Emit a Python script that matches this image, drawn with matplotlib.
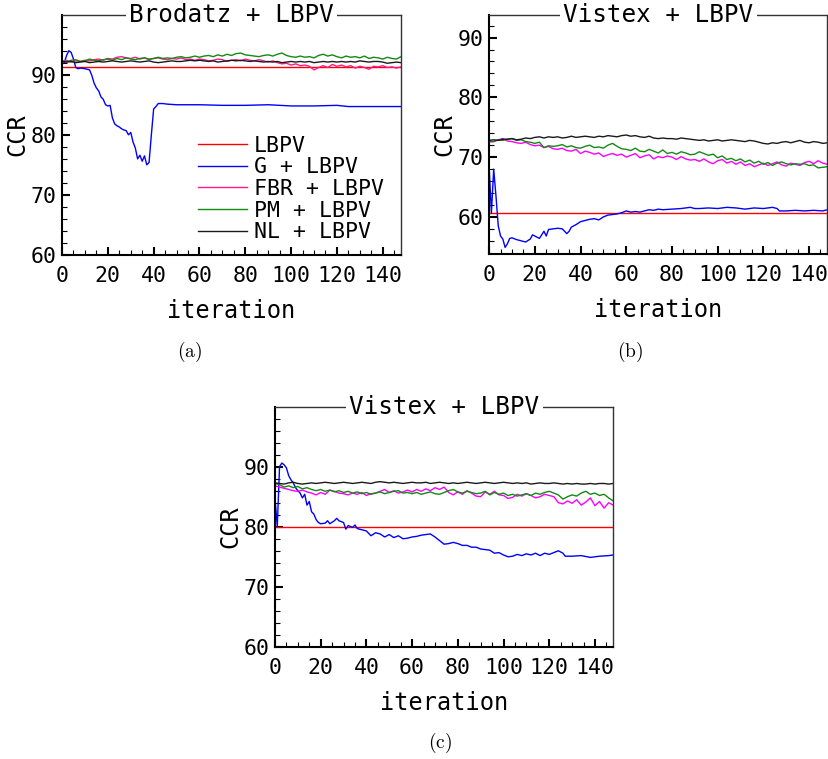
import numpy as np
import matplotlib
matplotlib.use("Agg")
import matplotlib.pyplot as plt
from matplotlib.ticker import MultipleLocator

plt.rcParams["font.family"] = ["DejaVu Sans Mono"]
plt.rcParams["mathtext.fontset"] = "cm"

# iteration index shared by the noisy curves (every 2nd iteration)
iters = np.arange(0, 149, 2)

# ---------------------------
# (a) Brodatz + LBPV
# ---------------------------
lbpv_a = 91.3
g_a = [(0, 91.8), (1, 92.0), (2, 93.2), (3, 94.0), (4, 93.7), (5, 92.6), (6, 91.2), (7, 91.0),
       (8, 91.1), (10, 91.0), (12, 90.8), (13, 89.9), (14, 88.6), (15, 87.8), (16, 87.3),
       (17, 86.3), (18, 85.9), (19, 85.0), (20, 84.8), (21, 84.9), (22, 82.8), (23, 81.8),
       (24, 81.5), (25, 81.3), (26, 81.0), (27, 80.8), (28, 80.7), (29, 80.0), (30, 80.4),
       (31, 78.8), (32, 77.8), (33, 76.0), (34, 76.6), (35, 75.6), (36, 76.5), (37, 75.0),
       (38, 75.4), (39, 80.0), (40, 84.3), (41, 84.7), (42, 85.2), (44, 85.2), (46, 85.1),
       (50, 85.0), (60, 85.0), (70, 84.9), (80, 84.9), (90, 85.0), (100, 84.8), (110, 84.8),
       (120, 84.9), (125, 84.7), (130, 84.7), (148, 84.7)]
fbr_a = [92.2, 92.4, 92.1, 92.3, 92.2, 92.4, 92.3, 92.5, 92.6, 92.4, 92.7, 92.6, 92.9, 93.0, 92.8,
         92.7, 92.9, 92.6, 92.8, 92.5, 92.7, 92.8, 92.6, 92.5, 92.7, 92.6, 92.8, 92.5, 92.6, 92.4,
         92.6, 92.5, 92.3, 92.4, 92.6, 92.5, 92.2, 92.4, 92.5, 92.3, 92.6, 92.4, 92.3, 92.5, 92.3,
         92.1, 92.3, 92.0, 91.8, 91.9, 91.6, 91.8, 91.5, 91.6, 91.4, 90.8, 91.2, 91.5, 91.2, 91.7,
         91.4, 91.6, 91.3, 91.5, 91.1, 91.4, 91.2, 90.9, 91.4, 91.3, 91.5, 91.2, 91.3, 91.1, 91.3]
pm_a = [92.3, 92.1, 92.4, 92.5, 92.2, 92.3, 92.6, 92.4, 92.3, 92.5, 92.6, 92.4, 92.7, 92.5, 92.8,
        92.6, 92.5, 92.7, 92.8, 92.6, 92.7, 92.9, 92.7, 92.8, 92.7, 92.9, 93.0, 92.8, 92.9, 93.1,
        92.9, 93.1, 93.2, 93.0, 93.3, 93.1, 93.4, 93.2, 93.5, 93.6, 93.3, 93.2, 93.1, 93.0, 93.2,
        93.3, 93.1, 93.4, 93.6, 93.2, 93.0, 92.9, 93.1, 92.9, 93.0, 92.8, 93.2, 93.4, 93.1, 93.3,
        93.0, 92.8, 93.1, 92.9, 93.0, 92.8, 93.1, 92.7, 92.9, 92.8, 92.6, 92.9, 92.7, 92.6, 93.0]
nl_a = [92.2, 92.1, 92.2, 92.0, 92.1, 92.2, 92.0, 92.1, 92.2, 92.1, 92.2, 92.3, 92.2, 92.1, 92.2,
        92.3, 92.2, 92.1, 92.2, 92.3, 92.1, 92.0, 92.1, 92.2, 92.3, 92.2, 92.2, 92.3, 92.4, 92.3,
        92.4, 92.3, 92.2, 92.3, 92.1, 92.2, 92.3, 92.4, 92.3, 92.4, 92.3, 92.2, 92.3, 92.2, 92.1,
        92.2, 92.1, 92.2, 92.0, 92.1, 92.2, 92.1, 92.2, 92.1, 92.2, 92.0, 92.1, 92.2, 92.1, 92.2,
        92.1, 92.2, 92.1, 92.2, 92.1, 92.3, 92.2, 92.1, 92.2, 92.2, 92.1, 91.9, 92.0, 92.1, 92.0]

# ---------------------------
# (b) Vistex + LBPV
# ---------------------------
lbpv_b = 60.6
g_b = [(0, 68.5), (1, 60.6), (2, 68.0), (3, 63.5), (4, 58.5), (5, 56.8), (6, 56.3), (7, 54.9),
       (8, 55.5), (9, 56.4), (10, 56.5), (12, 56.2), (14, 56.0), (16, 55.8), (18, 56.3),
       (19, 57.0), (20, 56.8), (22, 56.4), (24, 57.6), (25, 56.8), (26, 57.9), (28, 58.0),
       (30, 58.1), (32, 58.0), (34, 57.2), (35, 57.6), (36, 58.3), (38, 58.7), (40, 59.2),
       (42, 59.4), (44, 59.6), (46, 59.7), (48, 59.5), (50, 60.0), (52, 60.3), (54, 60.4),
       (56, 60.5), (58, 60.7), (60, 61.0), (62, 60.8), (64, 60.9), (66, 60.8), (68, 61.0),
       (70, 61.2), (72, 61.1), (74, 61.3), (76, 61.2), (80, 61.3), (84, 61.4), (88, 61.6),
       (90, 61.4), (92, 61.4), (96, 61.5), (100, 61.4), (104, 61.6), (108, 61.5), (112, 61.3),
       (116, 61.5), (120, 61.4), (124, 61.6), (126, 61.4), (127, 61.0), (130, 61.0),
       (134, 61.1), (138, 61.0), (142, 61.1), (146, 61.0), (148, 61.2)]
fbr_b = [72.5, 72.6, 72.9, 73.1, 72.7, 72.6, 72.4, 72.3, 72.5, 72.1, 71.9, 72.0, 71.6, 71.8, 71.4,
         71.3, 71.5, 71.1, 71.0, 71.3, 70.6, 71.0, 70.8, 70.5, 70.7, 70.1, 70.4, 70.6, 70.3, 70.5,
         70.0, 70.3, 70.6, 69.9, 70.2, 70.4, 69.7, 70.1, 69.9, 70.2, 70.0, 69.6, 70.1, 69.7, 69.5,
         69.6, 69.3, 69.7, 69.2, 68.9, 69.4, 69.6, 69.0, 69.3, 68.8, 69.2, 68.6, 68.9, 68.4, 68.7,
         69.0, 68.6, 68.9, 69.2, 68.7, 68.5, 69.0, 68.8, 68.6, 69.1, 69.3, 68.9, 69.4, 69.0, 68.8]
pm_b = [72.7, 72.6, 72.9, 72.8, 73.0, 73.1, 72.8, 72.9, 72.6, 72.5, 72.3, 72.5, 71.6, 71.9, 71.8,
        71.9, 72.1, 71.7, 71.9, 71.6, 71.5, 71.8, 72.0, 71.6, 71.7, 71.5, 72.0, 72.3, 71.8, 71.4,
        71.3, 71.1, 71.5, 71.0, 70.9, 71.3, 71.0, 70.7, 71.2, 70.6, 70.8, 70.5, 70.9, 70.7, 70.4,
        70.5, 70.9, 70.6, 70.3, 70.5, 69.9, 70.2, 69.6, 69.8, 69.4, 69.7, 69.2, 69.5, 69.0, 69.3,
        68.8, 69.1, 68.6, 69.0, 69.2, 68.9, 68.7, 68.9, 68.8, 68.9, 68.6, 68.7, 68.2, 68.3, 68.4]
nl_b = [72.8, 72.9, 72.8, 73.0, 73.0, 73.1, 72.9, 73.0, 73.2, 73.1, 73.3, 73.4, 73.2, 73.4, 73.3,
        73.4, 73.2, 73.3, 73.5, 73.3, 73.4, 73.5, 73.4, 73.3, 73.5, 73.4, 73.6, 73.5, 73.4, 73.6,
        73.7, 73.5, 73.6, 73.4, 73.3, 73.5, 73.2, 73.1, 73.2, 73.1, 73.1, 73.0, 73.2, 73.1, 73.0,
        72.9, 72.8, 72.9, 72.7, 72.8, 72.9, 72.7, 72.8, 72.9, 72.8, 72.7, 72.6, 72.8, 72.7, 72.5,
        72.3, 72.2, 72.4, 72.3, 72.5, 72.6, 72.4, 72.6, 72.8, 72.5, 72.4, 72.6, 72.5, 72.3, 72.4]

# ---------------------------
# (c) Vistex + LBPV
# ---------------------------
lbpv_c = 80.0
g_c = [(0, 84.8), (1, 80.0), (2, 90.0), (3, 90.6), (4, 90.3), (5, 89.8), (6, 88.5), (7, 87.8),
       (8, 87.3), (9, 86.5), (10, 86.0), (11, 85.6), (12, 84.8), (13, 85.4), (14, 83.6),
       (15, 84.2), (16, 82.5), (17, 82.1), (18, 81.2), (19, 80.7), (20, 80.5), (22, 80.6),
       (23, 81.0), (24, 80.5), (26, 81.0), (27, 81.4), (28, 81.0), (30, 80.7), (31, 79.6),
       (32, 80.2), (34, 79.9), (35, 80.3), (36, 79.7), (38, 79.5), (40, 79.3), (42, 78.5),
       (44, 79.0), (46, 78.8), (48, 78.3), (50, 78.7), (52, 78.2), (54, 78.5), (56, 78.0),
       (58, 78.1), (60, 78.3), (62, 78.4), (64, 78.6), (66, 78.7), (68, 78.8), (70, 78.3),
       (72, 77.7), (74, 77.1), (76, 77.2), (78, 77.4), (80, 77.2), (82, 76.9), (84, 76.9),
       (86, 76.6), (88, 76.6), (90, 76.3), (92, 76.2), (94, 76.1), (96, 75.6), (98, 75.7),
       (100, 75.3), (102, 75.0), (104, 75.1), (106, 75.4), (108, 75.2), (110, 75.5),
       (112, 75.3), (114, 75.6), (116, 75.2), (118, 75.6), (120, 75.4), (122, 75.7),
       (124, 76.0), (126, 75.6), (127, 75.1), (130, 75.1), (134, 75.2), (138, 74.9),
       (142, 75.1), (146, 75.2), (148, 75.3)]
fbr_c = [86.8, 86.6, 86.4, 86.2, 86.0, 85.9, 86.1, 85.8, 85.6, 85.3, 85.7, 85.4, 86.1, 85.9, 85.6,
         85.5, 85.3, 85.6, 85.4, 85.7, 85.2, 85.5, 85.6, 85.9, 86.2, 85.7, 86.0, 85.6, 85.8, 86.1,
         85.8, 86.2, 85.9, 86.3, 86.0, 86.5, 86.2, 86.6, 85.7, 85.3, 85.8, 85.4, 86.0, 85.6, 85.1,
         85.0, 85.8, 85.4, 85.9, 85.3, 85.2, 84.7, 84.9, 85.4, 85.1, 85.5, 85.2, 84.8, 85.0, 85.4,
         85.2, 85.0, 84.0, 83.8, 84.3, 83.9, 84.5, 83.6, 84.1, 84.8, 83.5, 84.2, 83.1, 84.0, 83.6]
pm_c = [87.2, 87.0, 86.6, 86.8, 86.5, 86.7, 86.3, 86.5, 86.2, 86.0, 86.2, 85.9, 86.1, 85.8, 86.0,
        85.7, 85.9, 85.6, 85.8, 85.5, 85.7, 85.4, 85.6, 85.8, 85.5, 85.7, 85.9, 86.0, 85.6, 85.7,
        85.5, 85.7, 85.4, 85.6, 85.8, 85.5, 85.4, 85.7, 86.0, 86.2, 85.8, 85.6, 85.9, 85.7, 85.5,
        85.6, 85.9, 85.3, 85.7, 85.4, 85.6, 85.2, 85.4, 85.1, 85.3, 85.5, 85.2, 85.6, 85.4, 85.7,
        85.9, 85.6, 85.3, 84.6, 85.0, 85.3, 85.1, 85.6, 85.9, 85.4, 85.6, 85.2, 85.4, 84.8, 84.3]
nl_c = [87.3, 87.2, 87.1, 87.3, 87.4, 87.2, 87.1, 87.2, 87.3, 87.2, 87.3, 87.4, 87.3, 87.2, 87.3,
        87.4, 87.3, 87.2, 87.3, 87.4, 87.3, 87.2, 87.4, 87.5, 87.4, 87.3, 87.4, 87.3, 87.2, 87.3,
        87.4, 87.3, 87.3, 87.4, 87.2, 87.3, 87.4, 87.3, 87.2, 87.3, 87.2, 87.3, 87.4, 87.3, 87.2,
        87.3, 87.4, 87.3, 87.2, 87.3, 87.4, 87.3, 87.2, 87.3, 87.2, 87.3, 87.1, 87.2, 87.3, 87.2,
        87.2, 87.3, 87.2, 87.1, 87.2, 87.1, 87.2, 87.1, 87.1, 87.2, 87.1, 87.2, 87.2, 87.1, 87.2]

labels = ["LBPV", "G + LBPV", "FBR + LBPV", "PM + LBPV", "NL + LBPV"]

LW = 1.0
RED, BLUE, GREEN, BLACK = "#ff0000", "#0000ff", "#138a13", "#1a1a1a"


def style_axes(ax, title, ylim):
    ax.set_xlim(0, 148)
    ax.set_ylim(*ylim)
    ax.xaxis.set_major_locator(MultipleLocator(20))
    ax.xaxis.set_minor_locator(MultipleLocator(5))
    ax.yaxis.set_major_locator(MultipleLocator(10))
    ax.yaxis.set_minor_locator(MultipleLocator(2))
    ax.tick_params(which="both", direction="in", top=False, right=False, labelsize=15.5)
    ax.tick_params(which="major", length=6, width=1.5)
    ax.tick_params(which="minor", length=3.5, width=0.8)
    ax.tick_params(axis="x", which="major", pad=8)
    ax.tick_params(axis="y", which="major", pad=4)
    for side in ("left", "bottom"):
        ax.spines[side].set_linewidth(1.5)
    for side in ("top", "right"):
        ax.spines[side].set_linewidth(1.0)
        ax.spines[side].set_color("#333333")
    ax.set_xlabel("iteration", fontsize=17, labelpad=9)
    ax.set_ylabel("CCR", fontsize=17, labelpad=1)
    ax.text(0.5, 1.0, title, transform=ax.transAxes, ha="center", va="center",
            fontsize=17.5, zorder=10, clip_on=False,
            bbox=dict(facecolor="white", edgecolor="none", pad=2.5))


def draw(ax, lbpv, g, fbr, pm, nl, fbr_color):
    gx, gy = zip(*g)
    ax.axhline(lbpv, color=RED, lw=LW, label=labels[0])
    ax.plot(gx, gy, color=BLUE, lw=LW, label=labels[1])
    ax.plot(iters, fbr, color=fbr_color, lw=LW, label=labels[2])
    ax.plot(iters, pm, color=GREEN, lw=LW, label=labels[3])
    ax.plot(iters, nl, color=BLACK, lw=LW, label=labels[4])


fig = plt.figure(figsize=(8.29, 7.59), dpi=100)
ax_a = fig.add_axes([0.0748, 0.664, 0.409, 0.316])
ax_b = fig.add_axes([0.590, 0.6654, 0.408, 0.315])
ax_c = fig.add_axes([0.3317, 0.1476, 0.408, 0.316])

draw(ax_a, lbpv_a, g_a, fbr_a, pm_a, nl_a, "#ff1a8c")
draw(ax_b, lbpv_b, g_b, fbr_b, pm_b, nl_b, "#ff00ff")
draw(ax_c, lbpv_c, g_c, fbr_c, pm_c, nl_c, "#ff00ff")

style_axes(ax_a, "Brodatz + LBPV", (60, 99.9))
style_axes(ax_b, "Vistex + LBPV", (53.8, 93.8))
style_axes(ax_c, "Vistex + LBPV", (60, 99.9))

ax_a.legend(loc="upper left", bbox_to_anchor=(0.40, 0.498), frameon=False, fontsize=15.5,
            handlelength=2.3, handletextpad=0.3, labelspacing=0.08, borderpad=0,
            borderaxespad=0)

fig.text(190 / 829, 1 - 352 / 759, r"$\mathrm{(a)}$", ha="center", va="center", fontsize=14)
fig.text(630 / 829, 1 - 352 / 759, r"$\mathrm{(b)}$", ha="center", va="center", fontsize=14)
fig.text(440 / 829, 1 - 743 / 759, r"$\mathrm{(c)}$", ha="center", va="center", fontsize=14)

fig.savefig("out.png", dpi=100)
plt.close(fig)
